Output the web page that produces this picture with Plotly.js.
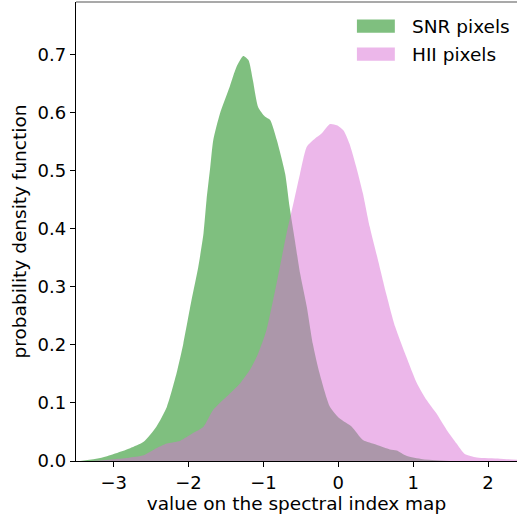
<!DOCTYPE html>
<html>
<head>
<meta charset="utf-8">
<script src="https://cdn.plot.ly/plotly-3.0.1.min.js"></script>
<style>html,body{margin:0;padding:0;background:#fff;}</style>
</head>
<body>
<div id="chart" style="width:517px;height:521px;"></div>
<script>
// Kernel density estimates of the spectral index, sampled along x
const snrX = [-3.45, -3.18, -3.0, -2.78, -2.60, -2.43, -2.29, -2.16, -2.07, -1.96, -1.87, -1.80, -1.76, -1.71, -1.67, -1.58, -1.45, -1.36, -1.27, -1.20, -1.14, -1.07, -0.98, -0.91, -0.82, -0.71, -0.65, -0.58, -0.51, -0.42, -0.34, -0.25, -0.11, 0.02, 0.18, 0.33, 0.51, 0.69, 0.78, 0.91, 1.13, 1.50];
const snrY = [0.0, 0.005, 0.012, 0.022, 0.033, 0.059, 0.093, 0.151, 0.202, 0.277, 0.334, 0.392, 0.449, 0.506, 0.552, 0.598, 0.644, 0.678, 0.697, 0.690, 0.655, 0.609, 0.593, 0.587, 0.552, 0.495, 0.437, 0.380, 0.323, 0.265, 0.202, 0.151, 0.093, 0.073, 0.059, 0.036, 0.028, 0.020, 0.018, 0.009, 0.003, 0.0];

const hiiX = [-3.30, -3.0, -2.60, -2.43, -2.29, -2.11, -1.94, -1.80, -1.67, -1.49, -1.31, -1.18, -1.07, -0.96, -0.87, -0.78, -0.69, -0.60, -0.51, -0.42, -0.31, -0.22, -0.11, -0.02, 0.07, 0.15, 0.24, 0.33, 0.42, 0.53, 0.64, 0.76, 0.91, 1.05, 1.18, 1.31, 1.45, 1.58, 1.69, 1.85, 2.16, 2.40];
const hiiY = [0.0, 0.003, 0.010, 0.022, 0.030, 0.035, 0.048, 0.059, 0.088, 0.111, 0.134, 0.157, 0.185, 0.225, 0.277, 0.334, 0.392, 0.443, 0.495, 0.541, 0.555, 0.564, 0.580, 0.578, 0.569, 0.546, 0.506, 0.460, 0.403, 0.346, 0.288, 0.231, 0.179, 0.134, 0.105, 0.082, 0.053, 0.030, 0.012, 0.006, 0.004, 0.002];

const seriesNames = ['SNR pixels', 'HII pixels'];
const xTicks = [-3, -2, -1, 0, 1, 2];
const yTicks = [0.0, 0.1, 0.2, 0.3, 0.4, 0.5, 0.6, 0.7];

const font = 'DejaVu Sans, sans-serif';
const fills = ['rgba(0,128,0,0.5)', 'rgba(218,112,214,0.5)'];

const series = [[snrX, snrY], [hiiX, hiiY]];
const traces = series.map(([xs, ys], i) => ({
  x: xs, y: ys, name: seriesNames[i], type: 'scatter', mode: 'lines',
  fill: 'tozeroy', fillcolor: fills[i],
  line: {width: 0, shape: 'spline', smoothing: 0.6, color: fills[i]},
  hoverinfo: 'skip', showlegend: false
}));

// Legend drawn as patch + label pairs in the upper right corner
const legendShapes = [];
const legendNotes = [];
const patchTop = [0.962, 0.901];
seriesNames.forEach((name, i) => {
  legendShapes.push({
    type: 'rect', xref: 'paper', yref: 'paper',
    x0: 0.637, x1: 0.723, y0: patchTop[i] - 0.029, y1: patchTop[i],
    fillcolor: fills[i], line: {width: 0}
  });
  legendNotes.push({
    xref: 'paper', yref: 'paper', x: 0.757, y: patchTop[i] - 0.0145,
    xanchor: 'left', yanchor: 'middle', showarrow: false,
    text: name, font: {family: font, size: 18.5, color: '#000'}
  });
});

const layout = {
  width: 517, height: 521,
  margin: {l: 76, r: 0, t: 2, b: 60, pad: 0},
  paper_bgcolor: '#fff', plot_bgcolor: '#fff',
  font: {family: font, size: 18, color: '#000'},
  showlegend: false,
  xaxis: {
    range: [-3.503, 2.387], tickvals: xTicks,
    ticktext: xTicks.map(v => v < 0 ? '\u2212' + Math.abs(v) : String(v)),
    ticks: 'outside', ticklen: 5, tickwidth: 1, tickcolor: '#000',
    tickfont: {family: font, size: 18},
    showline: true, linecolor: '#000', linewidth: 1.2,
    showgrid: false, zeroline: false,
    title: {text: 'value on the spectral index map', font: {family: font, size: 18.5}, standoff: 4}
  },
  yaxis: {
    range: [0, 0.79], tickvals: yTicks,
    ticktext: yTicks.map(v => v.toFixed(1)),
    ticks: 'outside', ticklen: 5, tickwidth: 1, tickcolor: '#000',
    tickfont: {family: font, size: 18},
    showline: true, linecolor: '#000', linewidth: 1.2,
    showgrid: false, zeroline: false,
    title: {text: 'probability density function', font: {family: font, size: 18.5}, standoff: 6}
  },
  shapes: [
    {type: 'line', xref: 'paper', yref: 'paper', x0: 0, x1: 1, y0: 1, y1: 1,
     line: {color: '#555', width: 1.2}}
  ].concat(legendShapes),
  annotations: legendNotes
};

Plotly.newPlot('chart', traces, layout, {displayModeBar: false, staticPlot: true});
</script>
</body>
</html>
